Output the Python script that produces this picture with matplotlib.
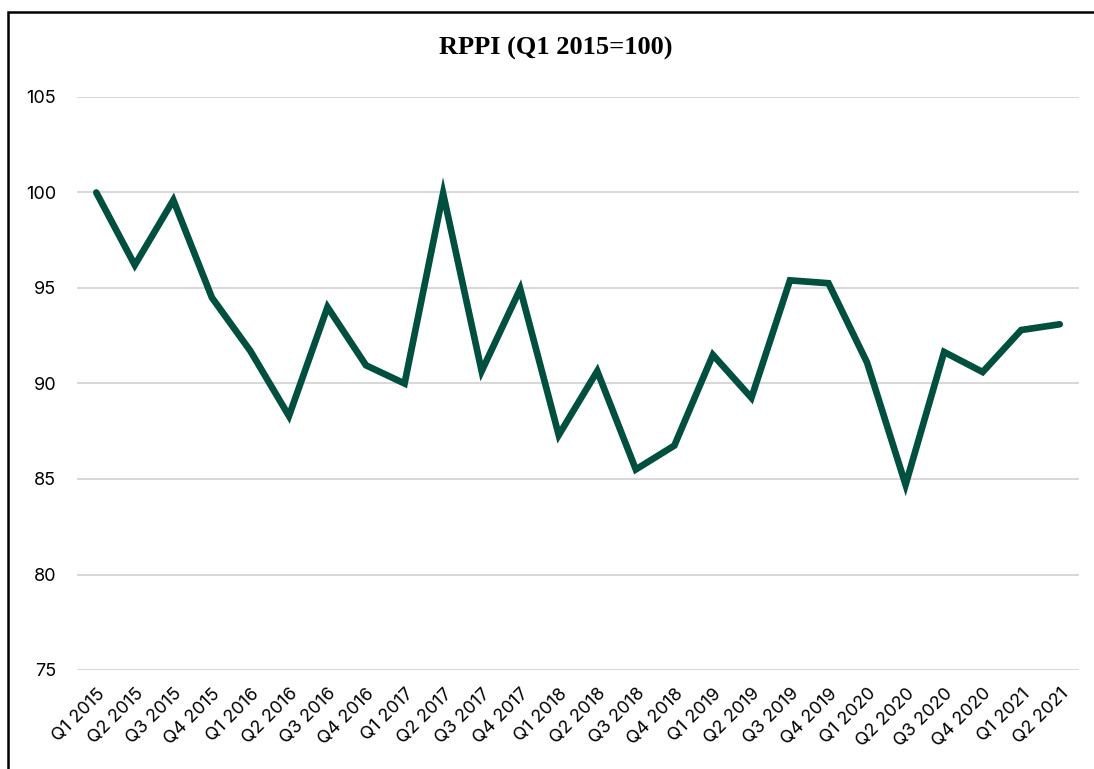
import matplotlib
matplotlib.use("Agg")
import matplotlib.pyplot as plt
from matplotlib.patches import Rectangle

quarters = ["Q1 2015", "Q2 2015", "Q3 2015", "Q4 2015",
            "Q1 2016", "Q2 2016", "Q3 2016", "Q4 2016",
            "Q1 2017", "Q2 2017", "Q3 2017", "Q4 2017",
            "Q1 2018", "Q2 2018", "Q3 2018", "Q4 2018",
            "Q1 2019", "Q2 2019", "Q3 2019", "Q4 2019",
            "Q1 2020", "Q2 2020", "Q3 2020", "Q4 2020",
            "Q1 2021", "Q2 2021"]
rppi = [100.0, 96.2, 99.6, 94.5,
        91.7, 88.3, 94.0, 90.95,
        90.0, 99.95, 90.65, 94.95,
        87.3, 90.65, 85.5, 86.75,
        91.5, 89.25, 95.4, 95.25,
        91.1, 84.7, 91.65, 90.6,
        92.8, 93.1]
y_ticks = [75, 80, 85, 90, 95, 100, 105]
title = "RPPI (Q1 2015=100)"

fig = plt.figure(figsize=(10.94, 7.69), dpi=100)
ax = fig.add_axes([77/1094, 1-670/769, (1079-77)/1094, (670-97)/769])

x = list(range(len(quarters)))
ax.plot(x, rppi, color="#01503f", linewidth=4.8, solid_joinstyle="miter",
        solid_capstyle="round", zorder=3)

ax.set_xlim(-0.5, len(quarters)-0.5)
ax.set_ylim(75, 105)
ax.set_yticks(y_ticks)
ax.set_xticks(x)
ax.set_xticklabels(quarters, rotation=45, ha="right", rotation_mode="anchor")
ax.tick_params(axis="both", length=0, labelsize=13, colors="#000000")
ax.tick_params(axis="x", pad=11)
ax.tick_params(axis="y", pad=15)
for lab in ax.get_xticklabels() + ax.get_yticklabels():
    lab.set_fontfamily("Inter")

ax.grid(axis="y", color="#d9d9d9", linewidth=1.5, zorder=0)
for s in ax.spines.values():
    s.set_visible(False)

fig.text(556/1094, 1-48/769, title, ha="center", va="center",
         fontsize=19, fontweight="bold", family="Liberation Serif")

# outer frame, cut off on the right and bottom like the source
fig.add_artist(Rectangle((8/1094, -0.1), 1.2, (769-12)/769+0.1,
                         transform=fig.transFigure, fill=False,
                         edgecolor="black", linewidth=1.8))

fig.savefig("out.png", dpi=100)
